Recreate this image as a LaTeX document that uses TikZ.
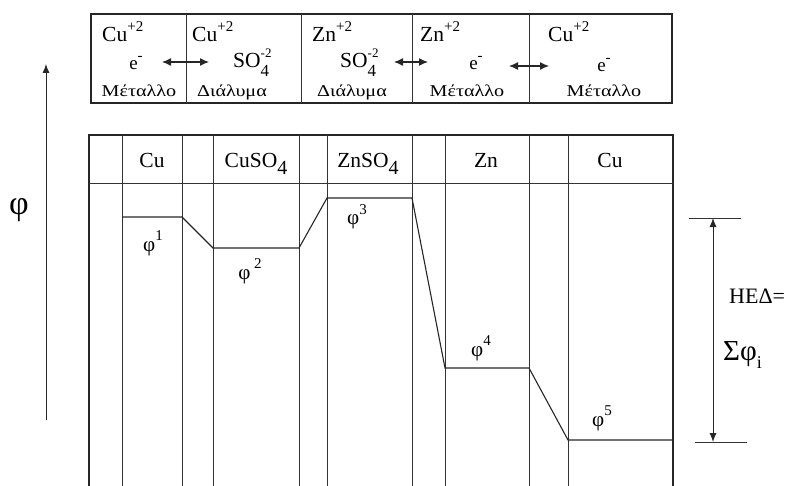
\documentclass[tikz,border=0pt]{standalone}
\usepackage{fontspec}
\setmainfont{Liberation Serif}
\usetikzlibrary{arrows.meta}
\newcommand{\supx}[1]{\raisebox{0.5em}{\fontsize{15}{15}\selectfont #1}}
\newcommand{\subsup}[2]{\rlap{\raisebox{-0.4em}{\fontsize{17}{17}\selectfont #1}}\raisebox{0.5em}{\fontsize{13}{13}\selectfont #2}}
\newcommand{\grk}[1]{\scalebox{1.22}[1]{#1}}
\begin{document}
\begin{tikzpicture}[x=1pt,y=-1pt,
  big/.style={font=\fontsize{21.5}{24}\selectfont, inner sep=0pt},
  mid/.style={font=\fontsize{19}{21}\selectfont, inner sep=0pt},
  small/.style={font=\fontsize{16.5}{18}\selectfont, inner sep=0pt},
  frame/.style={line width=1.8pt, draw=black!85},
  thin/.style={line width=0.8pt, draw=black!80},
  level/.style={line width=1.1pt, draw=black!85},
  dbl/.style={line width=1.2pt, draw=black!85, {Latex[length=9pt,width=8pt]}-{Latex[length=9pt,width=8pt]}},
  axarrow/.style={line width=0.9pt, draw=black!85, -{Latex[length=9pt,width=7pt]}}
]
\useasboundingbox (0,0) rectangle (791,486);

% ---------- top box ----------
\draw[frame] (91,14) rectangle (672,103);
\foreach \x in {186,301,412,529} \draw[thin] (\x,14) -- (\x,103);

% cell 1
\node[big,anchor=base west] (c1a) at (102,42) {Cu\supx{+2}};
\node[mid,anchor=base] (c1b) at (136,70) {e\supx{-}};
\node[small,anchor=base] (c1c) at (139,97) {\grk{Μέταλλο}};
% cell 2
\node[big,anchor=base west] (c2a) at (192,42) {Cu\supx{+2}};
\node[big,anchor=base west] (c2b) at (233,68) {SO\subsup{4}{-2}};
\node[small,anchor=base] (c2c) at (232,97) {\grk{Διάλυμα}};
% cell 3
\node[big,anchor=base west] (c3a) at (312,42) {Zn\supx{+2}};
\node[big,anchor=base west] (c3b) at (340,68) {SO\subsup{4}{-2}};
\node[small,anchor=base] (c3c) at (352,97) {\grk{Διάλυμα}};
% cell 4
\node[big,anchor=base west] (c4a) at (420,42) {Zn\supx{+2}};
\node[mid,anchor=base] (c4b) at (476,70) {e\supx{-}};
\node[small,anchor=base] (c4c) at (467,97) {\grk{Μέταλλο}};
% cell 5
\node[big,anchor=base west] (c5a) at (548,42) {Cu\supx{+2}};
\node[mid,anchor=base] (c5b) at (604,72) {e\supx{-}};
\node[small,anchor=base] (c5c) at (604,97) {\grk{Μέταλλο}};

% double arrows
\coordinate (a1l) at (162,62); \coordinate (a1r) at (209,62);
\coordinate (a2l) at (394,62); \coordinate (a2r) at (428,62);
\coordinate (a3l) at (509,66); \coordinate (a3r) at (549,66);
\draw[dbl] (a1l) -- (a1r);
\draw[dbl] (a2l) -- (a2r);
\draw[dbl] (a3l) -- (a3r);

% ---------- main box ----------
\draw[frame] (89,487) -- (89,135) -- (673,135) -- (673,487);
\draw[thin] (89,183) -- (673,183);
\foreach \x in {122,182,213,299,327,412,445,529,568} \draw[thin] (\x,135) -- (\x,487);

\node[big,anchor=base] (h1) at (152,168) {Cu};
\node[big,anchor=base] (h2) at (256,168) {CuSO\raisebox{-0.3em}{\fontsize{20}{20}\selectfont 4}};
\node[big,anchor=base] (h3) at (368,168) {ZnSO\raisebox{-0.3em}{\fontsize{20}{20}\selectfont 4}};
\node[big,anchor=base] (h4) at (486,168) {Zn};
\node[big,anchor=base] (h5) at (610,168) {Cu};

% potential levels
\coordinate (p1a) at (122,217); \coordinate (p1b) at (182,217);
\coordinate (p2a) at (213,248); \coordinate (p2b) at (299,248);
\coordinate (p3a) at (327,198); \coordinate (p3b) at (412,198);
\coordinate (p4a) at (445,368); \coordinate (p4b) at (529,368);
\coordinate (p5a) at (568,440); \coordinate (p5b) at (673,440);
\draw[level] (p1a) -- (p1b) -- (p2a) -- (p2b) -- (p3a) -- (p3b) -- (p4a) -- (p4b) -- (p5a) -- (p5b);

\node[mid,anchor=base,font=\fontsize{21}{23}\selectfont] (f1) at (153,251) {φ\supx{1}};
\node[mid,anchor=base,font=\fontsize{21}{23}\selectfont] (f2) at (250,279) {φ\,\supx{2}};
\node[mid,anchor=base,font=\fontsize{21}{23}\selectfont] (f3) at (357,225) {φ\supx{3}};
\node[mid,anchor=base,font=\fontsize{21}{23}\selectfont] (f4) at (481,356) {φ\supx{4}};
\node[mid,anchor=base,font=\fontsize{21}{23}\selectfont] (f5) at (602,426) {φ\supx{5}};

% ---------- left axis ----------
\coordinate (ax0) at (46,420); \coordinate (ax1) at (46,64);
\draw[axarrow] (ax0) -- (ax1);
\node[font=\fontsize{34}{36}\selectfont, inner sep=0pt] (phi) at (19,210) {φ};

% ---------- right EMF arrow ----------
\coordinate (t1) at (689,218); \coordinate (t2) at (741,218);
\coordinate (b1) at (695,442); \coordinate (b2) at (747,442);
\draw[thin] (t1) -- (t2);
\draw[thin] (b1) -- (b2);
\coordinate (ea) at (713,218); \coordinate (eb) at (713,442);
\draw[line width=0.9pt, draw=black!85, {Latex[length=9pt,width=7pt]}-{Latex[length=9pt,width=7pt]}] (ea) -- (eb);
\node[font=\fontsize{22}{24}\selectfont, inner sep=0pt, anchor=base west] (hed) at (729,303) {HEΔ=};
\node[font=\fontsize{29}{31}\selectfont, inner sep=0pt, anchor=base west] (sum) at (723,360) {Σφ\raisebox{-0.3em}{\fontsize{18}{18}\selectfont i}};
\end{tikzpicture}
\end{document}
